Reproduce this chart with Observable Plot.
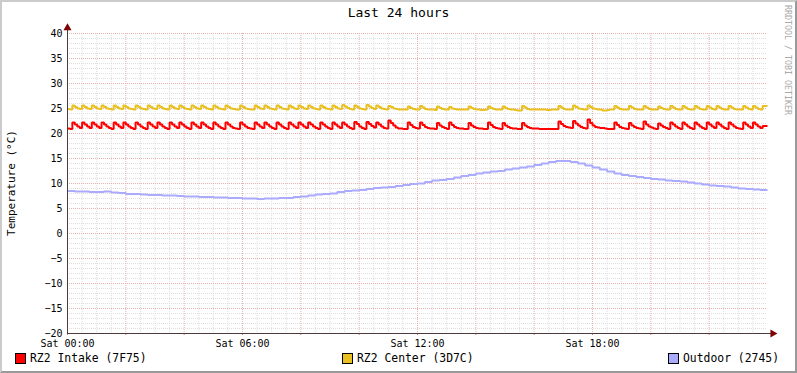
<!DOCTYPE html>
<html>
<head>
<meta charset="utf-8">
<script src="https://cdn.jsdelivr.net/npm/d3@7"></script>
<script src="https://cdn.jsdelivr.net/npm/@observablehq/plot@0.6"></script>
<style>
  html, body { margin: 0; padding: 0; background: #fff; }
  #wrap { position: relative; width: 797px; height: 373px; overflow: hidden; font-family: "DejaVu Sans Mono", monospace; color: #000; }
  #wrap svg { position: absolute; left: 0; top: 0; }
  .abs { position: absolute; white-space: pre; line-height: 1; }
  .frame { position: absolute; left: 0; top: 0; width: 797px; height: 373px; box-sizing: border-box;
           border-top: 2px solid #cbcbcb; border-left: 2px solid #cbcbcb; border-right: 2px solid #999; border-bottom: 2px solid #999; pointer-events: none; }
  .sw { position: absolute; width: 9px; height: 9px; border: 1px solid #000; box-sizing: content-box; }
</style>
</head>
<body>
<div id="wrap"></div>
<script>
// ---------- data ----------
const title = "Last 24 hours";
const yLabel = "Temperature (°C)";
const watermark = "RRDTOOL / TOBI OETIKER";
const seriesNames = ["RZ2 Intake (7F75)", "RZ2 Center (3D7C)", "Outdoor (2745)"];
const seriesColors = ["#ff0000", "#e8c020", "#aaaaff"];
const xTicks = [0, 6, 12, 18];
const xTickLabels = ["Sat 00:00", "Sat 06:00", "Sat 12:00", "Sat 18:00"];
const yTicks = [-20, -15, -10, -5, 0, 5, 10, 15, 20, 25, 30, 35, 40];

// 5-minute samples, one row per hour
const intake = [
  21.0,20.9,22.2,21.8,21.4,21.1,22.2,21.8,21.4,21.1,22.2,21.8,
  21.4,21.1,22.2,21.8,21.4,21.1,20.9,22.2,21.8,21.4,21.1,22.2,
  21.8,21.4,21.1,20.9,22.2,21.8,21.4,21.1,20.9,22.2,21.8,21.4,
  21.1,22.2,21.8,21.4,21.1,20.9,22.2,21.8,21.4,21.1,22.2,21.8,
  21.4,21.1,20.9,22.2,21.8,21.4,21.1,22.2,21.8,21.4,21.1,20.9,
  22.2,21.8,21.4,21.1,20.9,22.2,21.8,21.4,21.1,21.0,20.9,22.2,
  21.8,21.4,21.1,21.0,20.9,22.2,21.8,21.4,21.1,22.2,21.8,21.4,
  21.1,20.9,22.2,21.8,21.4,21.1,20.9,22.2,21.8,21.4,21.1,22.2,
  21.8,21.4,21.1,22.2,21.8,21.4,21.1,20.9,22.2,21.8,21.4,21.1,
  20.9,22.2,21.8,21.4,21.1,22.2,21.8,21.4,21.1,20.9,22.3,21.9,
  21.4,21.1,20.9,22.3,21.9,21.5,21.2,22.2,21.8,21.4,21.1,21.0,
  22.6,22.1,21.6,21.2,21.0,21.0,20.9,20.9,22.2,21.7,21.3,21.1,
  21.0,22.2,21.7,21.3,21.1,21.0,21.0,20.9,22.1,21.6,21.3,21.1,
  20.9,22.2,21.7,21.3,21.1,21.0,21.0,20.9,20.9,22.1,21.6,21.3,
  21.1,21.0,21.0,20.9,20.9,22.2,21.7,21.3,21.1,21.0,20.9,22.1,
  21.6,21.3,21.1,21.0,21.0,20.9,20.9,22.1,21.6,21.3,21.1,21.0,
  21.0,21.0,20.9,20.9,20.9,20.9,20.9,20.9,20.9,20.9,22.4,21.9,
  21.5,21.3,21.2,21.1,22.5,22.0,21.6,21.3,21.1,21.0,22.8,22.1,
  21.6,21.3,21.2,21.1,21.1,21.0,20.9,20.9,20.9,22.2,21.7,21.3,
  21.1,21.0,20.9,22.1,21.6,21.3,21.1,21.0,20.9,22.4,21.8,21.4,
  21.2,21.0,20.9,22.0,21.6,21.3,21.1,20.9,22.2,21.8,21.4,21.1,
  20.9,22.2,21.8,21.4,21.1,20.9,22.2,21.8,21.4,21.1,20.9,22.2,
  21.8,21.4,21.1,22.2,21.8,21.4,21.1,20.9,22.2,21.8,21.4,21.1,
  21.0,20.9,22.2,21.8,21.4,21.1,22.2,21.8,21.4,21.1,21.5,21.5
];
const center = [
  24.9,24.8,25.6,25.3,25.0,24.9,25.6,25.3,25.0,24.9,25.6,25.3,
  25.0,24.9,25.6,25.3,25.0,24.9,24.8,25.6,25.3,25.0,24.9,25.6,
  25.3,25.0,24.9,24.8,25.6,25.3,25.0,24.9,24.8,25.6,25.3,25.0,
  24.9,25.6,25.3,25.0,24.9,24.8,25.6,25.3,25.0,24.9,25.6,25.3,
  25.0,24.9,24.8,25.6,25.3,25.0,24.9,25.6,25.3,25.0,24.9,24.8,
  25.6,25.3,25.0,24.9,24.8,25.6,25.3,25.0,24.9,24.8,24.8,25.6,
  25.3,25.0,24.9,24.8,24.8,25.6,25.3,25.0,24.9,25.6,25.3,25.0,
  24.9,24.8,25.6,25.3,25.0,24.9,24.8,25.6,25.3,25.0,24.9,25.6,
  25.3,25.0,24.9,25.6,25.3,25.0,24.9,24.8,25.6,25.3,25.0,24.9,
  24.8,25.6,25.3,25.0,24.9,25.7,25.4,25.1,24.9,24.8,25.6,25.3,
  25.0,24.9,24.8,25.7,25.4,25.1,24.9,25.6,25.3,25.0,24.9,24.8,
  25.5,25.3,25.0,24.9,24.8,24.8,24.8,24.8,25.4,25.1,24.9,24.8,
  24.8,25.5,25.2,24.9,24.8,24.8,24.8,24.7,25.4,25.1,24.9,24.8,
  24.8,25.3,25.0,24.9,24.8,24.8,24.8,24.8,24.8,25.4,25.1,24.9,
  24.8,24.8,24.7,24.7,24.8,25.4,25.1,24.9,24.8,24.8,24.8,25.4,
  25.1,24.9,24.8,24.8,24.7,24.6,24.6,25.5,25.2,24.9,24.8,24.8,
  24.8,24.8,24.8,24.8,24.8,24.7,24.7,24.8,24.8,24.8,25.5,25.2,
  24.9,24.8,24.8,24.8,25.6,25.3,25.0,24.9,24.8,24.8,25.6,25.3,
  25.0,24.9,24.8,24.8,24.6,24.6,24.7,24.8,24.8,25.5,25.2,24.9,
  24.8,24.8,24.8,25.5,25.2,24.9,24.8,24.8,24.8,25.5,25.2,24.9,
  24.8,24.8,24.8,25.4,25.1,24.9,24.8,24.8,25.5,25.2,24.9,24.8,
  24.8,25.5,25.2,24.9,24.8,24.8,25.5,25.2,24.9,24.8,24.8,25.5,
  25.2,24.9,24.8,25.5,25.2,24.9,24.8,24.8,25.5,25.2,24.9,24.8,
  24.8,24.8,25.5,25.2,24.9,24.8,25.5,25.2,24.9,24.8,25.5,25.5
];
// 15-minute samples, one row per 3 hours
const outdoor = [
  8.5,8.4,8.4,8.3,8.3,8.4,8.2,8.1,7.9,7.9,7.8,7.7,
  7.7,7.6,7.6,7.5,7.4,7.4,7.3,7.3,7.2,7.2,7.1,7.1,
  7.0,7.0,6.9,7.0,7.0,7.1,7.1,7.3,7.4,7.6,7.8,7.9,
  8.0,8.3,8.5,8.6,8.7,8.9,9.1,9.2,9.3,9.5,9.7,9.9,
  10.0,10.3,10.6,10.7,10.9,11.2,11.5,11.7,12.0,12.2,12.4,12.5,
  12.8,13.0,13.2,13.4,13.7,14.0,14.3,14.5,14.5,14.3,14.0,13.6,
  13.2,12.8,12.4,12.0,11.7,11.5,11.3,11.1,10.9,10.8,10.6,10.5,
  10.4,10.2,10.0,9.8,9.6,9.5,9.4,9.2,9.0,8.9,8.8,8.7
];

// ---------- build ----------
function toRows(arr, stepHours, name) {
  const rows = arr.map((v, i) => ({t: i * stepHours, v, name}));
  rows.push({t: 24, v: arr[arr.length - 1], name}); // close the last step at the window end
  return rows;
}
const rowsIntake = toRows(intake, 5 / 60, seriesNames[0]);
const rowsCenter = toRows(center, 5 / 60, seriesNames[1]);
const rowsOutdoor = toRows(outdoor, 15 / 60, seriesNames[2]);

const majorY = yTicks;
const minorY = d3.range(-20, 41, 1).filter(v => v % 5 !== 0);
const majorX = d3.range(0, 24, 2);
const minorX = d3.range(0.5, 24, 0.5).filter(v => v % 2 !== 0);

const axisColor = "#4a3c3c";
const arrowColor = "#7f0000";
const minorGrid = "#dedede";
const majorGrid = "#e6b0b0";

const chart = Plot.plot({
  width: 797,
  height: 373,
  marginTop: 33,
  marginRight: 30,
  marginBottom: 40,
  marginLeft: 67,
  style: {background: "transparent", fontFamily: "'DejaVu Sans Mono', monospace", fontSize: "10px", color: "#000"},
  x: {type: "linear", domain: [0, 24]},
  y: {type: "linear", domain: [-20, 40]},
  marks: [
    Plot.ruleY(minorY, {stroke: minorGrid, strokeDasharray: "1,1"}),
    Plot.ruleX(minorX, {stroke: minorGrid, strokeDasharray: "1,1"}),
    Plot.ruleY(majorY, {stroke: majorGrid, strokeDasharray: "1,1"}),
    Plot.ruleX(majorX, {stroke: majorGrid, strokeDasharray: "1,1"}),
    Plot.line(rowsOutdoor, {x: "t", y: "v", stroke: seriesColors[2], strokeWidth: 2, curve: "step-after", strokeLinejoin: "miter", strokeLinecap: "butt"}),
    Plot.line(rowsCenter, {x: "t", y: "v", stroke: seriesColors[1], strokeWidth: 2, curve: "step-after", strokeLinejoin: "miter", strokeLinecap: "butt"}),
    Plot.line(rowsIntake, {x: "t", y: "v", stroke: seriesColors[0], strokeWidth: 2, curve: "step-after", strokeLinejoin: "miter", strokeLinecap: "butt"}),
    Plot.axisY({ticks: yTicks, tickSize: 0, tickPadding: 5, label: null}),
    Plot.axisX({ticks: xTicks, tickFormat: d => xTickLabels[xTicks.indexOf(d)], tickSize: 0, tickPadding: 6, label: null}),
    Plot.ruleX(majorX, {y1: -20, y2: -20.4, stroke: "#c83c3c", strokeOpacity: 0.7}),
    Plot.ruleX([0], {y1: -20, y2: 41, stroke: axisColor, strokeWidth: 1}),
    Plot.ruleY([-20], {x1: 0, x2: 24.15, stroke: axisColor, strokeWidth: 1}),
    Plot.dot([{x: 0, y: 41.1}], {x: "x", y: "y", symbol: "triangle", r: 3, fill: arrowColor, stroke: null}),
    Plot.dot([{x: 24.18, y: -20}], {x: "x", y: "y", symbol: "triangle", r: 3, rotate: 90, fill: arrowColor, stroke: null})
  ]
});

const wrap = document.getElementById("wrap");
wrap.appendChild(chart);

function addText(txt, css) {
  const d = document.createElement("div");
  d.className = "abs";
  d.textContent = txt;
  Object.assign(d.style, css);
  wrap.appendChild(d);
  return d;
}
// title
addText(title, {left: "0px", width: "797px", textAlign: "center", top: "6px", fontSize: "13px"});
// y label
addText(yLabel, {left: "11px", top: "183px", fontSize: "11px", transform: "translate(-50%,-50%) rotate(-90deg)"});
// watermark
addText(watermark, {left: "788px", top: "60px", fontSize: "8.3px", color: "#aaa", transform: "translate(-50%,-50%) rotate(90deg)"});
// legend
const legendX = [15, 342, 668];
seriesNames.forEach((n, i) => {
  const sw = document.createElement("div");
  sw.className = "sw";
  sw.style.left = legendX[i] + "px";
  sw.style.top = "353px";
  sw.style.background = seriesColors[i];
  wrap.appendChild(sw);
  addText(n, {left: (legendX[i] + 15) + "px", top: "353px", fontSize: "11.4px"});
});
const fr = document.createElement("div");
fr.className = "frame";
wrap.appendChild(fr);
</script>
</body>
</html>
